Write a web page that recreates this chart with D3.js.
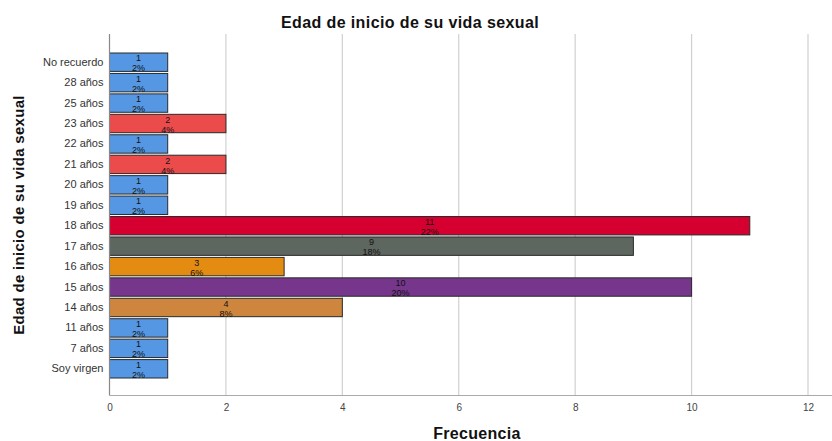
<!DOCTYPE html>
<html><head><meta charset="utf-8">
<script src="https://cdn.jsdelivr.net/npm/d3@7"></script>
<style>body{margin:0;background:#fff}svg{display:block;font-family:"Liberation Sans",Arial,sans-serif}</style>
</head><body>
<script>
const categories = ["No recuerdo","28 años","25 años","23 años","22 años","21 años","20 años","19 años","18 años","17 años","16 años","15 años","14 años","11 años","7 años","Soy virgen"];
const counts = [1,1,1,2,1,2,1,1,11,9,3,10,4,1,1,1];
const percents = ["2%","2%","2%","4%","2%","4%","2%","2%","22%","18%","6%","20%","8%","2%","2%","2%"];
const colors = ["#5597e3","#5597e3","#5597e3","#ec4b4c","#5597e3","#ec4b4c","#5597e3","#5597e3","#d5002f","#5e6660","#e48c12","#76368b","#ce853e","#5597e3","#5597e3","#5597e3"];
const xTicks = [0,2,4,6,8,10,12];

(function(){
const W=832,H=441;
const svg=d3.select("body").append("svg").attr("width",W).attr("height",H);
const x=d3.scaleLinear().domain([0,12]).range([109.5,808]);
const y=d3.scaleBand().domain(categories).range([53,378]).paddingInner(0.1).paddingOuter(0);
const pTop=34,pBottom=395.5;

svg.append("g").selectAll("line").data(xTicks.filter(d=>d>0)).join("line")
 .attr("x1",d=>x(d)).attr("x2",d=>x(d)).attr("y1",pTop).attr("y2",pBottom)
 .attr("stroke","#d0d0d0").attr("stroke-width",1.2);

const g=svg.append("g");
g.selectAll("rect").data(categories).join("rect")
 .attr("x",x(0)).attr("y",d=>y(d)).attr("width",(d,i)=>x(counts[i])-x(0)).attr("height",y.bandwidth())
 .attr("fill",(d,i)=>colors[i]).attr("stroke","#2a2a2a").attr("stroke-width",1);

const lab=svg.append("g").attr("font-size",9).attr("fill","#111").attr("text-anchor","middle");
categories.forEach((c,i)=>{
  const cx=(x(0)+x(counts[i]))/2;
  lab.append("text").attr("x",cx).attr("y",y(c)+8.3).text(counts[i]);
  lab.append("text").attr("x",cx).attr("y",y(c)+18.3).text(percents[i]);
});

svg.append("line").attr("x1",x(0)).attr("x2",x(0)).attr("y1",pTop).attr("y2",pBottom).attr("stroke","#888").attr("stroke-width",1.2);
svg.append("line").attr("x1",x(0)).attr("x2",W).attr("y1",pBottom).attr("y2",pBottom).attr("stroke","#aaa").attr("stroke-width",1.2);

const ya=svg.append("g").attr("transform",`translate(${x(0)},0)`).call(d3.axisLeft(y).tickSize(0).tickPadding(6));
ya.select(".domain").remove();
ya.selectAll("text").attr("font-size",11).attr("fill","#333").attr("font-family","'Liberation Sans',Arial,sans-serif");

const xa=svg.append("g").attr("transform",`translate(0,${pBottom})`).call(d3.axisBottom(x).tickValues(xTicks).tickSize(0).tickPadding(8));
xa.select(".domain").remove();
xa.selectAll("text").attr("font-size",10).attr("fill","#444").attr("font-family","'Liberation Sans',Arial,sans-serif");

svg.append("text").attr("x",410).attr("y",28).attr("text-anchor","middle").attr("font-size",16).attr("letter-spacing",0.4).attr("font-weight","bold").attr("fill","#111").text("Edad de inicio de su vida sexual");
svg.append("text").attr("x",477).attr("y",439).attr("text-anchor","middle").attr("font-size",16).attr("letter-spacing",0.3).attr("font-weight","bold").attr("fill","#111").text("Frecuencia");
svg.append("text").attr("transform","translate(24,215) rotate(-90)").attr("text-anchor","middle").attr("font-size",15).attr("letter-spacing",0.3).attr("font-weight","bold").attr("fill","#111").text("Edad de inicio de su vida sexual");
})();
</script>
</body></html>
